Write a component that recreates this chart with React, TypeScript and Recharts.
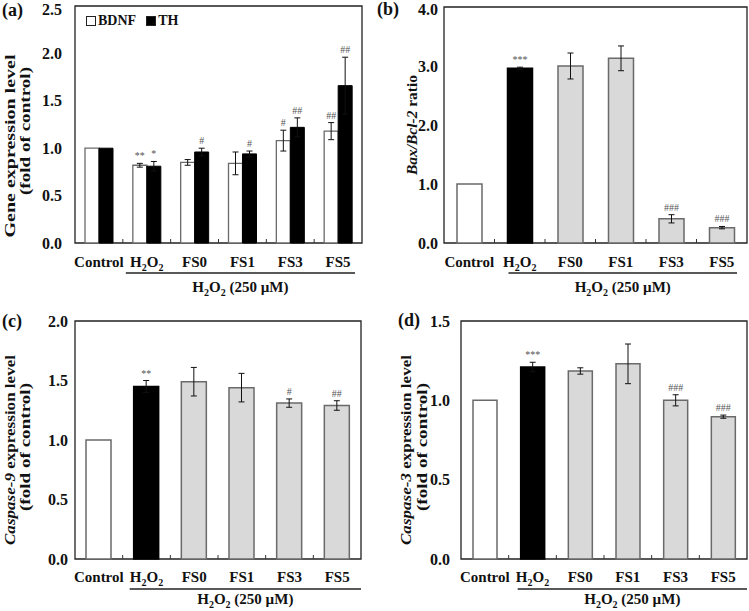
import React from "react";
import { BarChart, Bar, XAxis, YAxis, Cell, ErrorBar, LabelList, ReferenceArea, Legend } from "recharts";

const FONT = '"Liberation Serif", "Times New Roman", Times, serif';

const categories = ["Control", "H2O2", "FS0", "FS1", "FS3", "FS5"];

// (a) gene expression, fold of control
const bdnf = [1.0, 0.82, 0.85, 0.84, 1.08, 1.18];
const bdnfErr = [0, 0.02, 0.03, 0.12, 0.11, 0.09];
const bdnfSig = ["", "**", "", "", "#", "##"];
const th = [1.0, 0.81, 0.96, 0.94, 1.22, 1.66];
const thErr = [0, 0.05, 0.04, 0.03, 0.1, 0.3];
const thSig = ["", "*", "#", "#", "##", "##"];
const ticksA = [0, 0.5, 1.0, 1.5, 2.0, 2.5];

// (b) Bax/Bcl-2 ratio
const baxBcl2 = [1.0, 2.96, 3.0, 3.13, 0.41, 0.26];
const baxBcl2Err = [0, 0.02, 0.22, 0.21, 0.07, 0.02];
const baxBcl2Sig = ["", "***", "", "", "###", "###"];
const ticksB = [0, 1.0, 2.0, 3.0, 4.0];

// (c) caspase-9
const casp9 = [1.0, 1.45, 1.49, 1.44, 1.31, 1.29];
const casp9Err = [0, 0.05, 0.12, 0.12, 0.035, 0.04];
const casp9Sig = ["", "**", "", "", "#", "##"];
const ticksC = [0, 0.5, 1.0, 1.5, 2.0];

// (d) caspase-3
const casp3 = [1.0, 1.21, 1.185, 1.23, 1.0, 0.897];
const casp3Err = [0, 0.03, 0.02, 0.125, 0.035, 0.01];
const casp3Sig = ["", "***", "", "", "###", "###"];
const ticksD = [0, 0.5, 1.0, 1.5];

const barFills = ["#ffffff", "#000000", "#d9d9d9", "#d9d9d9", "#d9d9d9", "#d9d9d9"];
const barStrokes = ["#6a6a6a", "#000000", "#6a6a6a", "#6a6a6a", "#6a6a6a", "#6a6a6a"];

const legendItems = [
  { name: "BDNF", fill: "#ffffff" },
  { name: "TH", fill: "#000000" },
];

const ChemH2O2 = ({ sub = 10, shift = 4 }: any) => (
  <>
    <tspan>H</tspan>
    <tspan fontSize={sub} dy={shift}>2</tspan>
    <tspan dy={-shift}>O</tspan>
    <tspan fontSize={sub} dy={shift}>2</tspan>
  </>
);

function CatTick(props: any) {
  const { x, y, payload, index, band, labelDy } = props;
  const half = payload && payload.offset ? payload.offset : band / 2;
  const last = index === categories.length - 1;
  return (
    <g>
      {!last && <line x1={x + half} x2={x + half} y1={y} y2={y - 4} stroke="#333" strokeWidth={1} />}
      <text x={x} y={y + labelDy} textAnchor="middle" fontFamily={FONT} fontWeight="bold" fontSize={15} fill="#111">
        {payload.value === "H2O2" ? <ChemH2O2 /> : payload.value}
      </text>
    </g>
  );
}

function GroupLabel(props: any) {
  const { viewBox, inset, lineDy, textDy } = props;
  if (!viewBox) return null;
  const { x, y, width } = viewBox;
  const band = width / categories.length;
  const x1 = x + band + inset[0];
  const x2 = x + width - inset[1];
  return (
    <g>
      <line x1={x1} x2={x2} y1={y + lineDy} y2={y + lineDy} stroke="#222" strokeWidth={1.5} />
      <text x={(x1 + x2) / 2} y={y + textDy} textAnchor="middle" fontFamily={FONT} fontWeight="bold" fontSize={15} fill="#111">
        <ChemH2O2 />
        <tspan dy={-4}>{"\u00a0(250 µM)"}</tspan>
      </text>
    </g>
  );
}

function AxisTitle(props: any) {
  const { lines, letter } = props;
  return (
    <g fontFamily={FONT} fontWeight="bold" fill="#111">
      <text x={letter.x} y={letter.y} fontSize={18}>{letter.text}</text>
      {lines.map((l: any, i: number) => (
        <text
          key={i}
          x={l.cx}
          y={l.cy}
          transform={`rotate(-90 ${l.cx} ${l.cy})`}
          textAnchor="middle"
          dominantBaseline="central"
          fontSize={15}
          textLength={l.len}
          lengthAdjust="spacingAndGlyphs"
        >
          {l.parts}
        </text>
      ))}
    </g>
  );
}

function sigContent(vals: number[], errs: number[], sigs: string[]) {
  return (p: any) => {
    const i = p.index;
    const s = sigs[i];
    if (!s) return null;
    const h = Math.abs(p.height);
    const k = vals[i] ? h / vals[i] : 0;
    const top = Math.min(p.y, p.y + p.height) - errs[i] * k;
    return (
      <text x={p.x + p.width / 2} y={top - 4} textAnchor="middle" fontSize={10} fill="#555" fontFamily={FONT}>
        {s}
      </text>
    );
  };
}

function Panel(props: any) {
  const { left, top, width, height, yWidth, margin, xHeight, max, ticks, tickMargin, data, title, inset, textDy, labelDy, barSize, children, legend } = props;
  const plotW = width - yWidth - margin.right;
  return (
    <div style={{ position: "absolute", left, top, width, height }}>
      <BarChart width={width} height={height} data={data} margin={{ top: margin.top, right: margin.right, left: 0, bottom: 0 }} barCategoryGap={10} barGap={0} barSize={barSize}>
        <XAxis
          dataKey="name"
          type="category"
          interval={0}
          height={xHeight}
          axisLine={false}
          tickLine={false}
          tickSize={0}
          tickMargin={0}
          tick={<CatTick band={plotW / categories.length} labelDy={labelDy} />}
          label={<GroupLabel inset={inset} lineDy={30} textDy={textDy} />}
        />
        <YAxis
          type="number"
          domain={[0, max]}
          ticks={ticks}
          width={yWidth}
          axisLine={false}
          tickLine={false}
          tickSize={0}
          tickMargin={tickMargin}
          tickFormatter={(v: number) => v.toFixed(1)}
          tick={{ fontSize: 16, fontWeight: "bold", fill: "#111", fontFamily: FONT }}
          label={<AxisTitle lines={title.lines} letter={title.letter} />}
        />
        {legend}
        {children}
        <ReferenceArea y1={0} y2={max} fill="none" stroke="#222" strokeWidth={1.3} ifOverflow="visible" />
      </BarChart>
    </div>
  );
}

export default function App() {
  const dataA = categories.map((name, i) => ({
    name,
    bdnf: bdnf[i],
    bdnfErr: bdnfErr[i],
    bdnfSig: bdnfSig[i],
    th: th[i],
    thErr: thErr[i],
    thSig: thSig[i],
  }));
  const single = (vals: number[], errs: number[], sigs: string[]) =>
    categories.map((name, i) => ({ name, v: vals[i], err: errs[i], sig: sigs[i] }));

  const singleBar = (vals: number[], errs: number[], sigs: string[]) => (
    <Bar dataKey="v" isAnimationActive={false} strokeWidth={1.5}>
      {categories.map((c, i) => (
        <Cell key={c} fill={barFills[i]} stroke={barStrokes[i]} />
      ))}
      <ErrorBar dataKey="err" width={3} stroke="#111" strokeWidth={1} />
      <LabelList dataKey="sig" content={sigContent(vals, errs, sigs)} />
    </Bar>
  );

  const legendA = (
    <Legend
      layout="vertical"
      align="center"
      verticalAlign="middle"
      wrapperStyle={{ left: 86, top: 13, width: 120 }}
      content={() => (
        <div style={{ display: "flex", alignItems: "center", fontFamily: FONT, fontWeight: "bold", fontSize: 14, color: "#111", whiteSpace: "nowrap" }}>
          {legendItems.map((it) => (
            <span key={it.name} style={{ display: "inline-flex", alignItems: "center", marginRight: 10 }}>
              <span style={{ display: "inline-block", width: 8, height: 8, background: it.fill, border: "1px solid #222", marginRight: 2 }} />
              {it.name}
            </span>
          ))}
        </div>
      )}
    />
  );

  return (
    <div style={{ position: "absolute", left: 0, top: 0, width: 749, height: 611, background: "#fff" }}>
      <Panel
        left={0}
        top={0}
        width={375}
        height={305}
        yWidth={75}
        margin={{ top: 6, right: 13 }}
        xHeight={62}
        max={2.5}
        ticks={ticksA}
        tickMargin={13}
        data={dataA}
        inset={[3, 7]}
        textDy={49}
        labelDy={24}
        legend={legendA}
        title={{
          letter: { x: 2, y: 16, text: "(a)" },
          lines: [
            { cx: 9.5, cy: 146, len: 183, parts: "Gene expression level" },
            { cx: 25, cy: 131, len: 128, parts: "(fold of control)" },
          ],
        }}
      >
        <Bar dataKey="bdnf" fill="#ffffff" stroke="#6a6a6a" strokeWidth={1.3} isAnimationActive={false}>
          <ErrorBar dataKey="bdnfErr" width={3} stroke="#111" strokeWidth={1} />
          <LabelList dataKey="bdnfSig" content={sigContent(bdnf, bdnfErr, bdnfSig)} />
        </Bar>
        <Bar dataKey="th" fill="#000000" stroke="#000000" strokeWidth={1} isAnimationActive={false}>
          <ErrorBar dataKey="thErr" width={3} stroke="#111" strokeWidth={1} />
          <LabelList dataKey="thSig" content={sigContent(th, thErr, thSig)} />
        </Bar>
      </Panel>

      <Panel
        left={375}
        top={0}
        width={374}
        height={305}
        yWidth={69}
        margin={{ top: 7, right: 2 }}
        xHeight={62}
        max={4}
        ticks={ticksB}
        tickMargin={6}
        data={single(baxBcl2, baxBcl2Err, baxBcl2Sig)}
        inset={[14, 10]}
        textDy={49}
        labelDy={24}
        barSize={25}
        title={{
          letter: { x: 2, y: 15, text: "(b)" },
          lines: [
            {
              cx: 37,
              cy: 125,
              len: 100,
              parts: [
                <tspan key="i" fontStyle="italic">Bax/Bcl-2</tspan>,
                <tspan key="r">{"\u00a0ratio"}</tspan>,
              ],
            },
          ],
        }}
      >
        {singleBar(baxBcl2, baxBcl2Err, baxBcl2Sig)}
      </Panel>

      <Panel
        left={0}
        top={305}
        width={375}
        height={306}
        yWidth={75}
        margin={{ top: 16, right: 14 }}
        xHeight={52}
        max={2}
        ticks={ticksC}
        tickMargin={7}
        data={single(casp9, casp9Err, casp9Sig)}
        inset={[7, 0]}
        textDy={45}
        labelDy={23}
        barSize={25}
        title={{
          letter: { x: 2, y: 22, text: "(c)" },
          lines: [
            {
              cx: 9.5,
              cy: 145,
              len: 190,
              parts: [
                <tspan key="i" fontStyle="italic">Caspase-9</tspan>,
                <tspan key="r">{"\u00a0expression level"}</tspan>,
              ],
            },
            { cx: 25, cy: 142, len: 128, parts: "(fold of control)" },
          ],
        }}
      >
        {singleBar(casp9, casp9Err, casp9Sig)}
      </Panel>

      <Panel
        left={375}
        top={305}
        width={374}
        height={306}
        yWidth={86}
        margin={{ top: 16, right: 2 }}
        xHeight={52}
        max={1.5}
        ticks={ticksD}
        tickMargin={11}
        data={single(casp3, casp3Err, casp3Sig)}
        inset={[9, 0]}
        textDy={45}
        labelDy={23}
        barSize={24}
        title={{
          letter: { x: 23, y: 21, text: "(d)" },
          lines: [
            {
              cx: 31,
              cy: 145,
              len: 190,
              parts: [
                <tspan key="i" fontStyle="italic">Caspase-3</tspan>,
                <tspan key="r">{"\u00a0expression level"}</tspan>,
              ],
            },
            { cx: 47, cy: 142, len: 128, parts: "(fold of control)" },
          ],
        }}
      >
        {singleBar(casp3, casp3Err, casp3Sig)}
      </Panel>
    </div>
  );
}
